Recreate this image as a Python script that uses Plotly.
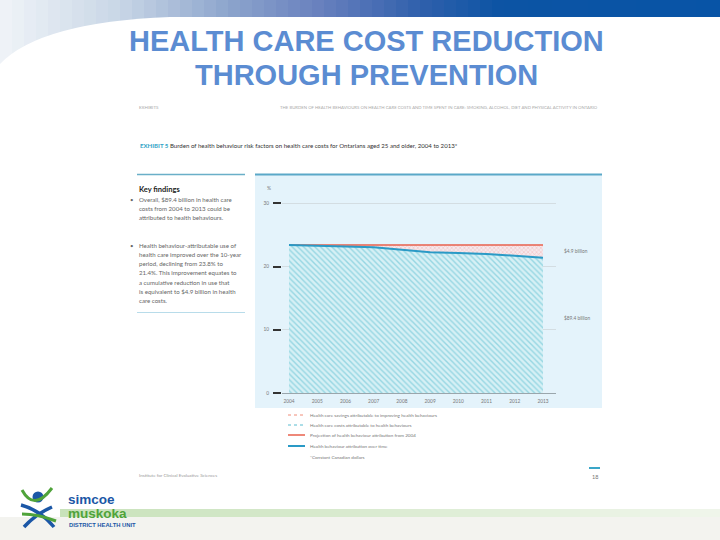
import plotly.graph_objects as go

# data
years = [2004, 2005, 2006, 2007, 2008, 2009, 2010, 2011, 2012, 2013]
attribution = [23.4, 23.25, 23.15, 23.05, 22.65, 22.25, 22.15, 22.0, 21.7, 21.4]
projection = [23.4] * len(years)
y_ticks = [0, 10, 20, 30]
label_savings = "$4.9 billion"
label_costs = "$89.4 billion"

W, H = 720, 540


def px(x):
    return x / W


def py(y):
    return 1 - y / H


doc_font = "Lato, Roboto, sans-serif"

fig = go.Figure()

# hatched area: costs attributable to health behaviours
fig.add_trace(go.Scatter(
    x=years, y=attribution, mode="lines", line=dict(width=0),
    fill="tozeroy", fillcolor="#D3EEF4",
    fillpattern=dict(shape="\\", fgcolor="#55BBCF", bgcolor="#D6F0F5", size=4, solidity=0.35),
    hoverinfo="skip", showlegend=False))
# hatched area: savings
fig.add_trace(go.Scatter(
    x=years, y=projection, mode="lines", line=dict(width=0),
    fill="tonexty",
    fillpattern=dict(shape="x", fgcolor="#EE9C9C", bgcolor="#F5E8EC", size=3, solidity=0.35),
    hoverinfo="skip", showlegend=False))
# projection line
fig.add_trace(go.Scatter(x=years, y=projection, mode="lines",
                         line=dict(color="#E8604C", width=1.5), showlegend=False))
# attribution line
fig.add_trace(go.Scatter(x=years, y=attribution, mode="lines",
                         line=dict(color="#2A9AC6", width=2), showlegend=False))

shapes = []

# slide header gradient band
stops = [(0, (240, 244, 248)), (120, (200, 214, 230)), (230, (140, 164, 204)),
         (320, (104, 128, 190)), (420, (48, 96, 172)), (500, (12, 84, 164)), (720, (8, 84, 166))]


def grad_color(x):
    for (x0, c0), (x1, c1) in zip(stops[:-1], stops[1:]):
        if x0 <= x <= x1:
            t = (x - x0) / (x1 - x0)
            return "rgb(%d,%d,%d)" % tuple(round(a + (b - a) * t) for a, b in zip(c0, c1))
    return "rgb(8,84,166)"


step = 12
for x0 in range(0, W, step):
    shapes.append(dict(type="rect", xref="paper", yref="paper",
                       x0=px(x0), x1=px(x0 + step + 0.5), y0=py(70), y1=py(0),
                       fillcolor=grad_color(x0 + step / 2), line=dict(width=0), layer="below"))
# white sweep under the band
shapes.append(dict(type="path", xref="paper", yref="paper",
                   path="M %f,%f Q %f,%f %f,%f L %f,%f L %f,%f L %f,%f Z" % (
                       px(0), py(64), px(40), py(22), px(170), py(17),
                       px(720), py(17), px(720), py(72), px(0), py(72)),
                   fillcolor="white", line=dict(width=0), layer="below"))
shapes.append(dict(type="rect", xref="paper", yref="paper", x0=0, x1=1, y0=py(540), y1=py(70),
                   fillcolor="white", line=dict(width=0), layer="below"))

# bottom of slide: green band and grey strip
for x0 in range(60, W, 20):
    t = (x0 - 60) / 660
    r = round(200 + 40 * t)
    g = round(226 + 20 * t)
    b = round(186 + 50 * t)
    shapes.append(dict(type="rect", xref="paper", yref="paper", x0=px(x0), x1=px(x0 + 20.5),
                       y0=py(517), y1=py(509), fillcolor="rgb(%d,%d,%d)" % (r, g, b),
                       line=dict(width=0), layer="below"))
shapes.append(dict(type="rect", xref="paper", yref="paper", x0=0, x1=1, y0=0, y1=py(517),
                   fillcolor="#F3F3EF", line=dict(width=0), layer="below"))

# chart panel
shapes.append(dict(type="rect", xref="paper", yref="paper", x0=px(255), x1=px(602),
                   y0=py(408), y1=py(175), fillcolor="#E4F3FB", line=dict(width=0), layer="below"))
shapes.append(dict(type="line", xref="paper", yref="paper", x0=px(255), x1=px(602),
                   y0=py(174.5), y1=py(174.5), line=dict(color="#5AA8C8", width=2)))
# key findings rules
shapes.append(dict(type="line", xref="paper", yref="paper", x0=px(137), x1=px(245),
                   y0=py(174.5), y1=py(174.5), line=dict(color="#6AAFC8", width=1.5)))
shapes.append(dict(type="line", xref="paper", yref="paper", x0=px(137), x1=px(245),
                   y0=py(312.5), y1=py(312.5), line=dict(color="#B8DCEA", width=1)))
# page number dash
shapes.append(dict(type="line", xref="paper", yref="paper", x0=px(589), x1=px(600),
                   y0=py(468), y1=py(468), line=dict(color="#3AA6C8", width=2)))

# legend symbols
leg_rows = [415, 425, 435, 446]
leg_styles = [dict(color="#F08C78", width=1, dash="dot"),
              dict(color="#58BCD0", width=1, dash="dot"),
              dict(color="#E8604C", width=1.5),
              dict(color="#2A9AC6", width=2)]
for yy, st in zip(leg_rows, leg_styles):
    shapes.append(dict(type="line", xref="paper", yref="paper", x0=px(288), x1=px(305),
                       y0=py(yy), y1=py(yy), line=st))

# logo mark
shapes.append(dict(type="circle", xref="paper", yref="paper", x0=px(32.5), x1=px(43.5),
                   y0=py(502.5), y1=py(491.5), fillcolor="#1B57A6", line=dict(width=0)))
shapes.append(dict(type="path", xref="paper", yref="paper",
                   path="M %f,%f Q %f,%f %f,%f" % (px(22), py(490), px(34), py(512), px(52), py(488)),
                   line=dict(color="#4FA33A", width=3)))
shapes.append(dict(type="path", xref="paper", yref="paper",
                   path="M %f,%f Q %f,%f %f,%f" % (px(21), py(505), px(40), py(510), px(54), py(527)),
                   line=dict(color="#1B57A6", width=3.5)))
shapes.append(dict(type="path", xref="paper", yref="paper",
                   path="M %f,%f Q %f,%f %f,%f" % (px(24), py(527), px(36), py(514), px(52), py(507)),
                   line=dict(color="#1B57A6", width=3.5)))
shapes.append(dict(type="path", xref="paper", yref="paper",
                   path="M %f,%f Q %f,%f %f,%f" % (px(22), py(514), px(38), py(514), px(56), py(521)),
                   line=dict(color="#4FA33A", width=3)))

fig.update_layout(shapes=shapes)

ann = []


def text(x, y, s, size, color, anchor="left", bold=False, family=doc_font):
    ann.append(dict(xref="paper", yref="paper", x=px(x), y=py(y), text=("<b>%s</b>" % s) if bold else s,
                    showarrow=False, xanchor=anchor, yanchor="middle",
                    font=dict(size=size, color=color, family=family)))


# slide title
text(366, 41.5, "HEALTH CARE COST REDUCTION", 29, "#5B8CD2", "center", True, "Liberation Sans, Arial")
text(366, 74.5, "THROUGH PREVENTION", 29, "#5B8CD2", "center", True, "Liberation Sans, Arial")

# document header
text(137, 107, "EXHIBITS", 4.5, "#AAAAAA")
text(600, 107, "THE BURDEN OF HEALTH BEHAVIOURS ON HEALTH CARE COSTS AND TIME SPENT IN CARE: "
     "SMOKING, ALCOHOL, DIET AND PHYSICAL ACTIVITY IN ONTARIO", 4.3, "#AAAAAA", "right")
text(138, 145, "<b><span style='color:#2FA3C6'>EXHIBIT 5</span></b> Burden of health behaviour risk factors "
     "on health care costs for Ontarians aged 25 and older, 2004 to 2013*", 6.1, "#333333")

# key findings
text(137, 189.5, "Key findings", 7.5, "#222222", bold=True)
bullet1 = ["Overall, $89.4 billion in health care", "costs from 2004 to 2013 could be",
           "attributed to health behaviours."]
bullet2 = ["Health behaviour-attributable use of", "health care improved over the 10-year",
           "period, declining from 23.8% to", "21.4%. This improvement equates to",
           "a cumulative reduction in use that", "is equivalent to $4.9 billion in health",
           "care costs."]
for i, line in enumerate(bullet1):
    text(137, 199.5 + i * 9.2, line, 6.1, "#666666")
for i, line in enumerate(bullet2):
    text(137, 245 + i * 9.3, line, 6.1, "#666666")
text(128, 199.5, "•", 6, "#666666")
text(128, 245, "•", 6, "#666666")

# chart extras
text(265, 188, "%", 5, "#777777")
ann.append(dict(xref="x", yref="y", x=years[-1], y=(projection[-1] + attribution[-1]) / 2,
                xshift=19, text=label_savings, showarrow=False, xanchor="left",
                font=dict(size=4.8, color="#777777", family=doc_font)))
ann.append(dict(xref="x", yref="y", x=years[-1], y=11.9,
                xshift=19, text=label_costs, showarrow=False, xanchor="left",
                font=dict(size=4.8, color="#777777", family=doc_font)))

leg_text = ["Health care savings attributable to improving health behaviours",
            "Health care costs attributable to health behaviours",
            "Projection of health behaviour attribution from 2004",
            "Health behaviour attribution over time"]
for yy, s in zip(leg_rows, leg_text):
    text(308, yy, s, 4.6, "#777777")
text(308, 456.5, "*Constant Canadian dollars", 4.6, "#777777")

text(137, 475, "Institute for Clinical Evaluative Sciences", 4.5, "#999999")
text(600, 476.5, "18", 5.5, "#777777", "right")

# logo words
text(66, 499, "simcoe", 13.5, "#1B57A6", bold=True, family="Liberation Sans, Arial")
text(66, 513, "muskoka", 13.5, "#4FA33A", bold=True, family="Liberation Sans, Arial")
text(67, 525, "DISTRICT HEALTH UNIT", 5.8, "#1B57A6", bold=True, family="Liberation Sans, Arial")

fig.update_layout(
    annotations=ann,
    width=W, height=H,
    margin=dict(l=0, r=0, t=0, b=0),
    paper_bgcolor="white",
    plot_bgcolor="rgba(0,0,0,0)",
    showlegend=False,
    xaxis=dict(domain=[px(282), px(556)], range=[2003.752, 2013.461],
               tickvals=years, showgrid=False, zeroline=False, showline=False, ticks="",
               tickfont=dict(size=4.8, color="#777777", family=doc_font)),
    yaxis=dict(domain=[py(397), py(180)], range=[-0.633, 33.69],
               tickvals=y_ticks, showgrid=True, gridcolor="#D3DDE2", gridwidth=1,
               zeroline=True, zerolinecolor="#9AA6AC", zerolinewidth=1,
               ticks="outside", ticklen=8, tickwidth=1.5, tickcolor="#333333",
               ticklabelstandoff=3,
               tickfont=dict(size=4.8, color="#777777", family=doc_font)),
)

# page body has a default margin; drop it so the figure sits at the window corner
fig.write_html("out.html", config={"displayModeBar": False},
               post_script="document.body.style.margin='0';")
